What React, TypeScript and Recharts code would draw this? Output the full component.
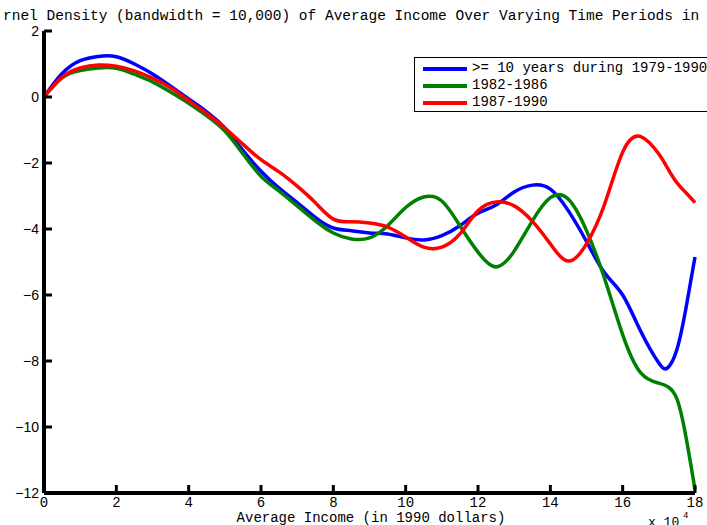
import { Line, LineChart, XAxis, YAxis } from "recharts";

// income in units of 10^4 (1990 dollars)
const incomes = [
  0, 0.5, 1, 1.5, 2, 2.5, 3, 3.5, 4, 4.5, 5, 5.5, 6, 6.5, 7, 7.5, 8, 8.5, 9,
  9.5, 10, 10.5, 11, 11.5, 12, 12.5, 13, 13.5, 14, 14.5, 15, 15.5, 16, 16.5,
  17, 17.25, 17.5, 17.75, 18
];

const tenYears = [
  0, 0.71, 1.1, 1.23, 1.22, 1.0, 0.7, 0.33, -0.06, -0.45, -0.94, -1.62, -2.25,
  -2.76, -3.2, -3.65, -3.97, -4.05, -4.12, -4.15, -4.27, -4.33, -4.2, -3.9,
  -3.52, -3.27, -2.88, -2.67, -2.79, -3.45, -4.38, -5.33, -6.0, -7.1, -8.06,
  -8.2, -7.65, -6.4, -4.85
];

const period8286 = [
  0, 0.58, 0.8, 0.88, 0.87, 0.69, 0.46, 0.15, -0.19, -0.57, -1.03, -1.72, -2.4,
  -2.85, -3.3, -3.75, -4.12, -4.3, -4.27, -3.9, -3.35, -3.03, -3.15, -3.9,
  -4.7, -5.15, -4.67, -3.76, -3.05, -3.1, -4.05, -5.5, -7.2, -8.36, -8.67,
  -8.78, -9.15, -10.3, -11.9
];

const period8790 = [
  0, 0.6, 0.88, 0.97, 0.93, 0.79, 0.57, 0.28, -0.11, -0.5, -0.94, -1.43, -1.9,
  -2.27, -2.7, -3.2, -3.7, -3.78, -3.82, -3.94, -4.24, -4.55, -4.55, -4.15,
  -3.45, -3.18, -3.3, -3.76, -4.45, -4.97, -4.45, -3.25, -1.67, -1.2, -1.73,
  -2.17, -2.6, -2.9, -3.2
];

const seriesKeys = ["tenYears", "p8286", "p8790"];
const seriesNames = [">= 10 years during 1979-1990", "1982-1986", "1987-1990"];
const seriesColors = ["#0000ff", "#008000", "#ff0000"];

const xTicks = [0, 2, 4, 6, 8, 10, 12, 14, 16, 18];
const yTicks = [-12, -10, -8, -6, -4, -2, 0, 2];

const rows = incomes.map((x, i) => ({
  x,
  tenYears: tenYears[i],
  p8286: period8286[i],
  p8790: period8790[i]
}));

const MONO = "'Liberation Mono', 'DejaVu Sans Mono', monospace";
const SANS = "'Liberation Sans', Arial, sans-serif";
const TICK = 8;

function BottomTick({ x, y, payload }: any) {
  return (
    <g>
      <line x1={x} x2={x} y1={y} y2={y - TICK} stroke="#000" strokeWidth={3} />
      <text x={x} y={y + 14} textAnchor="middle" fontFamily={MONO} fontSize={14} fill="#000">
        {payload.value}
      </text>
    </g>
  );
}

function TopTick({ x, y }: any) {
  return <line x1={x} x2={x} y1={y} y2={y + TICK} stroke="#000" strokeWidth={3} />;
}

function LeftTick({ x, y, payload }: any) {
  const v = payload.value;
  return (
    <g>
      <line x1={x} x2={x + TICK} y1={y} y2={y} stroke="#000" strokeWidth={3} />
      <text x={x - 5} y={y + 5} textAnchor="end" fontFamily={SANS} fontSize={14} fill="#000">
        {v < 0 ? `\u2212${-v}` : v}
      </text>
    </g>
  );
}

function RightTick({ x, y }: any) {
  return <line x1={x} x2={x - TICK} y1={y} y2={y} stroke="#000" strokeWidth={3} />;
}

function LegendBox() {
  return (
    <div
      style={{
        position: "absolute",
        left: 414,
        top: 57,
        border: "1px solid #000",
        background: "#fff",
        height: 55,
        width: 330,
        paddingTop: 2,
        boxSizing: "border-box"
      }}
    >
      {seriesNames.map((name, i) => (
        <div key={name} style={{ display: "flex", alignItems: "center", height: 17 }}>
          <div style={{ marginLeft: 8, width: 44, height: 4, background: seriesColors[i] }} />
          <span
            style={{
              marginLeft: 5,
              fontFamily: MONO,
              fontSize: 14,
              color: "#000",
              whiteSpace: "nowrap",
              lineHeight: "17px"
            }}
          >
            {name}
          </span>
        </div>
      ))}
    </div>
  );
}

export default function App() {
  return (
    <div
      style={{
        position: "absolute",
        left: 0,
        top: 0,
        width: 707,
        height: 525,
        overflow: "hidden",
        background: "#fff"
      }}
    >
      <LineChart
        width={707}
        height={525}
        data={rows}
        margin={{ top: 31, right: 12, bottom: 0, left: 0 }}
      >
        <XAxis
          dataKey="x"
          type="number"
          domain={[0, 18]}
          ticks={xTicks}
          interval={0}
          height={32}
          tickLine={false}
          tickSize={0}
          tickMargin={0}
          axisLine={{ stroke: "#000", strokeWidth: 4 }}
          tick={<BottomTick />}
        />
        <XAxis
          xAxisId="top"
          orientation="top"
          dataKey="x"
          type="number"
          domain={[0, 18]}
          ticks={xTicks}
          interval={0}
          height={0}
          tickLine={false}
          tickSize={0}
          tickMargin={0}
          axisLine={{ stroke: "#000", strokeWidth: 4 }}
          tick={<TopTick />}
        />
        <YAxis
          type="number"
          domain={[-12, 2]}
          ticks={yTicks}
          interval={0}
          width={44}
          tickLine={false}
          tickSize={0}
          tickMargin={0}
          axisLine={{ stroke: "#000", strokeWidth: 4 }}
          tick={<LeftTick />}
        />
        <YAxis
          yAxisId="right"
          orientation="right"
          type="number"
          domain={[-12, 2]}
          ticks={yTicks}
          interval={0}
          width={0}
          tickLine={false}
          tickSize={0}
          tickMargin={0}
          axisLine={{ stroke: "#000", strokeWidth: 4 }}
          tick={<RightTick />}
        />
        {seriesKeys.map((key, i) => (
          <Line
            key={key}
            dataKey={key}
            name={seriesNames[i]}
            type="natural"
            stroke={seriesColors[i]}
            strokeWidth={3.5}
            dot={false}
            isAnimationActive={false}
          />
        ))}
      </LineChart>
      <LegendBox />
      <svg
        width={707}
        height={525}
        style={{ position: "absolute", left: 0, top: 0, pointerEvents: "none" }}
      >
        <text x={3} y={20} fontFamily={MONO} fontSize={14.5} fill="#000">
          rnel Density (bandwidth = 10,000) of Average Income Over Varying Time Periods in
        </text>
        <text x={371} y={522} textAnchor="middle" fontFamily={MONO} fontSize={14} fill="#000">
          Average Income (in 1990 dollars)
        </text>
        <text x={648} y={526} fontFamily={MONO} fontSize={13} fill="#000">
          x 10
        </text>
        <text x={683} y={518} fontFamily={MONO} fontSize={9} fill="#000">
          4
        </text>
      </svg>
    </div>
  );
}
